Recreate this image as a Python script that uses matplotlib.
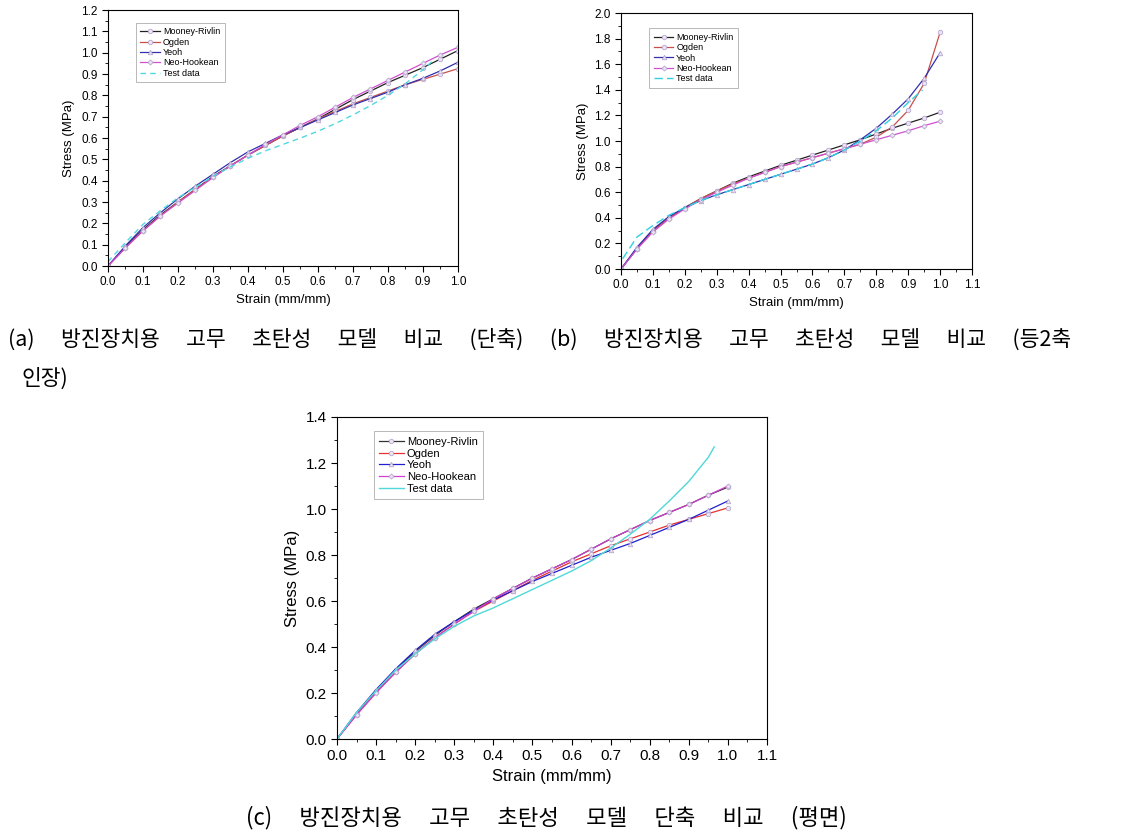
import numpy as np
import matplotlib
matplotlib.use("Agg")
import matplotlib.pyplot as plt
from matplotlib.ticker import MultipleLocator

plt.rcParams['font.family'] = ['Liberation Sans', 'DejaVu Sans']

# common strain grid for the model curves (mm/mm)
strain = [0.0, 0.05, 0.1, 0.15, 0.2, 0.25, 0.3, 0.35, 0.4, 0.45, 0.5,
          0.55, 0.6, 0.65, 0.7, 0.75, 0.8, 0.85, 0.9, 0.95, 1.0]

# (a) uniaxial
a_mooney = [0, 0.09, 0.17, 0.24, 0.30, 0.36, 0.42, 0.47, 0.52, 0.565, 0.61,
            0.65, 0.69, 0.735, 0.78, 0.82, 0.86, 0.895, 0.93, 0.97, 1.01]
a_ogden = [0, 0.085, 0.165, 0.235, 0.30, 0.36, 0.415, 0.47, 0.52, 0.565, 0.61,
           0.65, 0.69, 0.725, 0.76, 0.79, 0.82, 0.85, 0.875, 0.90, 0.925]
a_yeoh = [0, 0.095, 0.18, 0.25, 0.315, 0.375, 0.43, 0.485, 0.535, 0.575, 0.615,
          0.65, 0.685, 0.72, 0.755, 0.785, 0.815, 0.85, 0.88, 0.915, 0.955]
a_neo = [0, 0.085, 0.165, 0.235, 0.295, 0.355, 0.415, 0.47, 0.52, 0.57, 0.615,
         0.66, 0.70, 0.745, 0.79, 0.83, 0.87, 0.91, 0.95, 0.99, 1.025]
a_test_x = [0, 0.05, 0.1, 0.15, 0.2, 0.25, 0.3, 0.35, 0.4, 0.45, 0.5,
            0.55, 0.6, 0.65, 0.7, 0.75, 0.8, 0.85, 0.9, 0.93]
a_test_y = [0.02, 0.11, 0.195, 0.26, 0.32, 0.37, 0.42, 0.465, 0.505, 0.54, 0.57,
            0.60, 0.632, 0.668, 0.708, 0.752, 0.80, 0.855, 0.92, 0.965]

# (b) equibiaxial
b_mooney = [0, 0.16, 0.30, 0.40, 0.48, 0.55, 0.61, 0.67, 0.72, 0.765, 0.81,
            0.85, 0.89, 0.93, 0.97, 1.01, 1.055, 1.10, 1.14, 1.18, 1.225]
b_ogden = [0, 0.16, 0.30, 0.40, 0.48, 0.55, 0.61, 0.665, 0.71, 0.755, 0.80,
           0.835, 0.87, 0.905, 0.94, 0.975, 1.03, 1.11, 1.24, 1.45, 1.85]
b_yeoh = [0, 0.17, 0.31, 0.41, 0.48, 0.535, 0.58, 0.62, 0.66, 0.70, 0.74,
          0.78, 0.82, 0.87, 0.93, 1.01, 1.10, 1.21, 1.33, 1.49, 1.69]
b_neo = [0, 0.155, 0.29, 0.39, 0.47, 0.54, 0.60, 0.655, 0.71, 0.755, 0.80,
         0.835, 0.87, 0.905, 0.94, 0.975, 1.01, 1.045, 1.08, 1.12, 1.155]
b_test_x = [0.005, 0.05, 0.1, 0.15, 0.2, 0.25, 0.3, 0.35, 0.4, 0.45, 0.5,
            0.55, 0.6, 0.65, 0.7, 0.75, 0.8, 0.85, 0.9, 0.945]
b_test_y = [0.08, 0.25, 0.34, 0.42, 0.48, 0.535, 0.58, 0.62, 0.66, 0.70, 0.74,
            0.78, 0.82, 0.87, 0.93, 1.00, 1.08, 1.18, 1.30, 1.40]

# (c) planar
c_mooney = [0, 0.11, 0.21, 0.30, 0.38, 0.45, 0.51, 0.565, 0.61, 0.655, 0.70,
            0.74, 0.78, 0.825, 0.87, 0.91, 0.95, 0.985, 1.02, 1.06, 1.095]
c_ogden = [0, 0.105, 0.205, 0.29, 0.37, 0.44, 0.50, 0.555, 0.60, 0.645, 0.69,
           0.73, 0.77, 0.805, 0.84, 0.87, 0.90, 0.93, 0.955, 0.98, 1.005]
c_yeoh = [0, 0.115, 0.215, 0.305, 0.385, 0.455, 0.51, 0.56, 0.605, 0.645, 0.685,
          0.72, 0.755, 0.79, 0.82, 0.85, 0.885, 0.92, 0.955, 0.995, 1.035]
c_neo = [0, 0.105, 0.20, 0.29, 0.37, 0.44, 0.50, 0.555, 0.61, 0.655, 0.70,
         0.74, 0.78, 0.825, 0.87, 0.91, 0.95, 0.985, 1.02, 1.06, 1.10]
c_test_x = [0, 0.05, 0.1, 0.15, 0.2, 0.25, 0.3, 0.35, 0.4, 0.45, 0.5,
            0.55, 0.6, 0.65, 0.7, 0.75, 0.8, 0.85, 0.9, 0.95, 0.965]
c_test_y = [0, 0.115, 0.21, 0.30, 0.37, 0.435, 0.49, 0.535, 0.57, 0.61, 0.65,
            0.69, 0.73, 0.775, 0.83, 0.89, 0.955, 1.035, 1.12, 1.225, 1.27]

labels = ["Mooney-Rivlin", "Ogden", "Yeoh", "Neo-Hookean", "Test data"]
markers = ["o", "o", "^", "D", None]

captions = ["(a) 방진장치용 고무 초탄성 모델 비교 (단축) (b)  방진장치용 고무 초탄성 모델 비교 (등2축",
            "인장)",
            "(c)  방진장치용 고무 초탄성 모델 단축 비교 (평면)"]


def draw_panel(ax, models, test_x, test_y, colors, test_style, xmax, ymax, ymajor,
               tick_fs, label_fs, leg_fs, leg_anchor):
    for ys, lab, mk, col in zip(models, labels[:4], markers[:4], colors[:4]):
        ax.plot(strain, ys, color=col, lw=0.9, marker=mk, ms=3.2 if mk != "D" else 2.6,
                mfc='#ece4f4', mec='#b8a8cc', mew=0.6, label=lab)
    ax.plot(test_x, test_y, color=colors[4], lw=1.0, ls=test_style, label=labels[4])

    ax.set_xlim(0, xmax)
    ax.set_ylim(0, ymax)
    ax.xaxis.set_major_locator(MultipleLocator(0.1))
    ax.xaxis.set_minor_locator(MultipleLocator(0.05))
    ax.yaxis.set_major_locator(MultipleLocator(ymajor))
    ax.yaxis.set_minor_locator(MultipleLocator(ymajor / 2))
    ax.xaxis.set_major_formatter(plt.FuncFormatter(lambda v, p: f"{v:.1f}"))
    ax.yaxis.set_major_formatter(plt.FuncFormatter(lambda v, p: f"{v:.1f}"))
    ax.tick_params(which='major', direction='out', length=4, width=0.8,
                   labelsize=tick_fs, top=False, right=False)
    ax.tick_params(which='minor', direction='out', length=2, width=0.6,
                   top=False, right=False)
    for sp in ax.spines.values():
        sp.set_linewidth(0.8)
    ax.set_xlabel("Strain (mm/mm)", fontsize=label_fs, labelpad=4)
    ax.set_ylabel("Stress (MPa)", fontsize=label_fs, labelpad=4)

    leg = ax.legend(loc='upper left', bbox_to_anchor=leg_anchor, fontsize=leg_fs,
                    frameon=True, fancybox=False, handlelength=2.2, handletextpad=0.3,
                    borderpad=0.5, labelspacing=0.15, borderaxespad=0)
    leg.get_frame().set_edgecolor('#999999')
    leg.get_frame().set_linewidth(0.6)


fig = plt.figure(figsize=(11.21, 8.36), dpi=100)

ax_a = fig.add_axes([0.0963, 0.6818, 0.3122, 0.3062])
draw_panel(ax_a, [a_mooney, a_ogden, a_yeoh, a_neo], a_test_x, a_test_y,
           ['#222222', '#c8504a', '#3030b0', '#d050d0', '#50d8e0'], (0, (4, 3)),
           1.0, 1.2, 0.1, 8.5, 9.5, 6.5, (0.08, 0.95))

ax_b = fig.add_axes([0.554, 0.6782, 0.3131, 0.3062])
draw_panel(ax_b, [b_mooney, b_ogden, b_yeoh, b_neo], b_test_x, b_test_y,
           ['#222222', '#c8504a', '#3030b0', '#d050d0', '#30d0e0'], (0, (6, 3)),
           1.1, 2.0, 0.2, 8.5, 9.5, 6.5, (0.08, 0.94))

ax_c = fig.add_axes([0.3006, 0.116, 0.3836, 0.3852])
draw_panel(ax_c, [c_mooney, c_ogden, c_yeoh, c_neo], c_test_x, c_test_y,
           ['#333333', '#e83030', '#2020d0', '#d040d0', '#50d8d8'], '-',
           1.1, 1.4, 0.2, 11, 12, 8, (0.085, 0.955))

# the printed captions use wide word gaps, so widen the spaces
cap_font = ['Noto Sans CJK KR', 'DejaVu Sans']
wide = ["\u3000 ".join(c.split()) for c in captions]
fig.text(8 / 1121, 1 - 340 / 836, wide[0], fontsize=15.5, family=cap_font,
         ha='left', va='center')
fig.text(21 / 1121, 1 - 379 / 836, wide[1], fontsize=15.5, family=cap_font,
         ha='left', va='center')
fig.text(546 / 1121, 1 - 818 / 836, wide[2], fontsize=16, family=cap_font,
         ha='center', va='center')

fig.savefig("out.png", dpi=100)
